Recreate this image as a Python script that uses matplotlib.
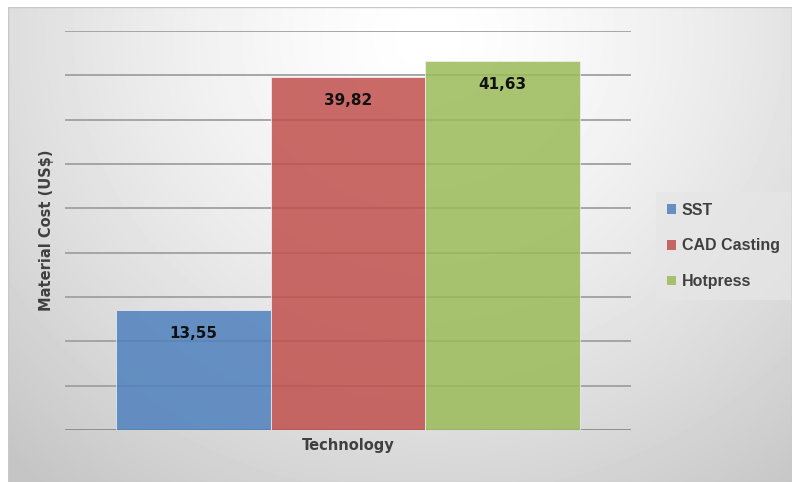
import numpy as np
import matplotlib.pyplot as plt
from matplotlib.patches import Patch

# data
category = "Technology"
series = ["SST", "CAD Casting", "Hotpress"]
costs = [13.55, 39.82, 41.63]
colors = ["#4F81BD", "#C0504D", "#9BBB59"]
y_max = 45
y_step = 5

W, H = 792, 482
fig = plt.figure(figsize=(W / 100, H / 100), dpi=100)
fig.patch.set_facecolor("white")

# radial gradient background of the chart area
bg = fig.add_axes([8 / W, 0, 1 - 8 / W, 1 - 7 / H], zorder=0)
yy, xx = np.mgrid[0:475, 0:784]
d = np.hypot((xx - 420) / 560.0, (yy - 30) / 520.0)
shade = np.clip(1.0 - 0.2 * d**1.4, 0.77, 1.0)
bg.imshow(shade, cmap="gray", vmin=0, vmax=1, aspect="auto", interpolation="bilinear")
bg.set_axis_off()
bg.add_patch(plt.Rectangle((0, 0), 1, 1, transform=bg.transAxes, fill=False,
                           edgecolor="#c8c8c8", linewidth=1))

ax = fig.add_axes([65 / W, 52 / H, 566 / W, 399 / H], zorder=1)
ax.patch.set_alpha(0)

x = np.arange(len(series)) - 1
bars = ax.bar(x, costs, width=1.0, color=colors, alpha=0.85,
              edgecolor="#f2f2f2", linewidth=0.6, zorder=2)
for xi, v in zip(x, costs):
    ax.annotate(f"{v:.2f}".replace(".", ","), (xi, v), xytext=(0, -17),
                textcoords="offset points", ha="center", va="center",
                fontsize=11, fontweight="bold", color="#111111", zorder=3)

for yv in np.arange(0, y_max + 1, y_step):
    ax.axhline(yv, color="#a0a0a0" if yv else "#8a8a8a", linewidth=1.3, zorder=1)

ax.set_xlim(-1.83, 1.83)
ax.set_ylim(0, y_max)
ax.set_xticks([])
ax.set_yticks([])
for s in ax.spines.values():
    s.set_visible(False)

ax.set_xlabel(category, fontsize=10.5, fontweight="bold", color="#404040", labelpad=6)
fig.text(47 / W, 1 - 230 / H, "Material Cost (US$)", rotation=90, ha="center",
         va="center", fontsize=10.5, fontweight="bold", color="#404040")

handles = [Patch(facecolor=c, alpha=0.85) for c in colors]
leg = fig.legend(handles, series, loc="center left",
                 bbox_to_anchor=(656 / W, 1 - 246 / H), frameon=True,
                 prop={"family": "Liberation Sans", "weight": "bold", "size": 11.5},
                 labelspacing=1.3, handlelength=0.55, handleheight=0.55,
                 handletextpad=0.35, borderpad=0.7, borderaxespad=0,
                 fancybox=False)
leg.get_frame().set_facecolor("#e6e6e6")
leg.get_frame().set_edgecolor("none")
leg.get_frame().set_alpha(0.7)
for t in leg.get_texts():
    t.set_color("#404040")

fig.savefig("out.png", dpi=100)
